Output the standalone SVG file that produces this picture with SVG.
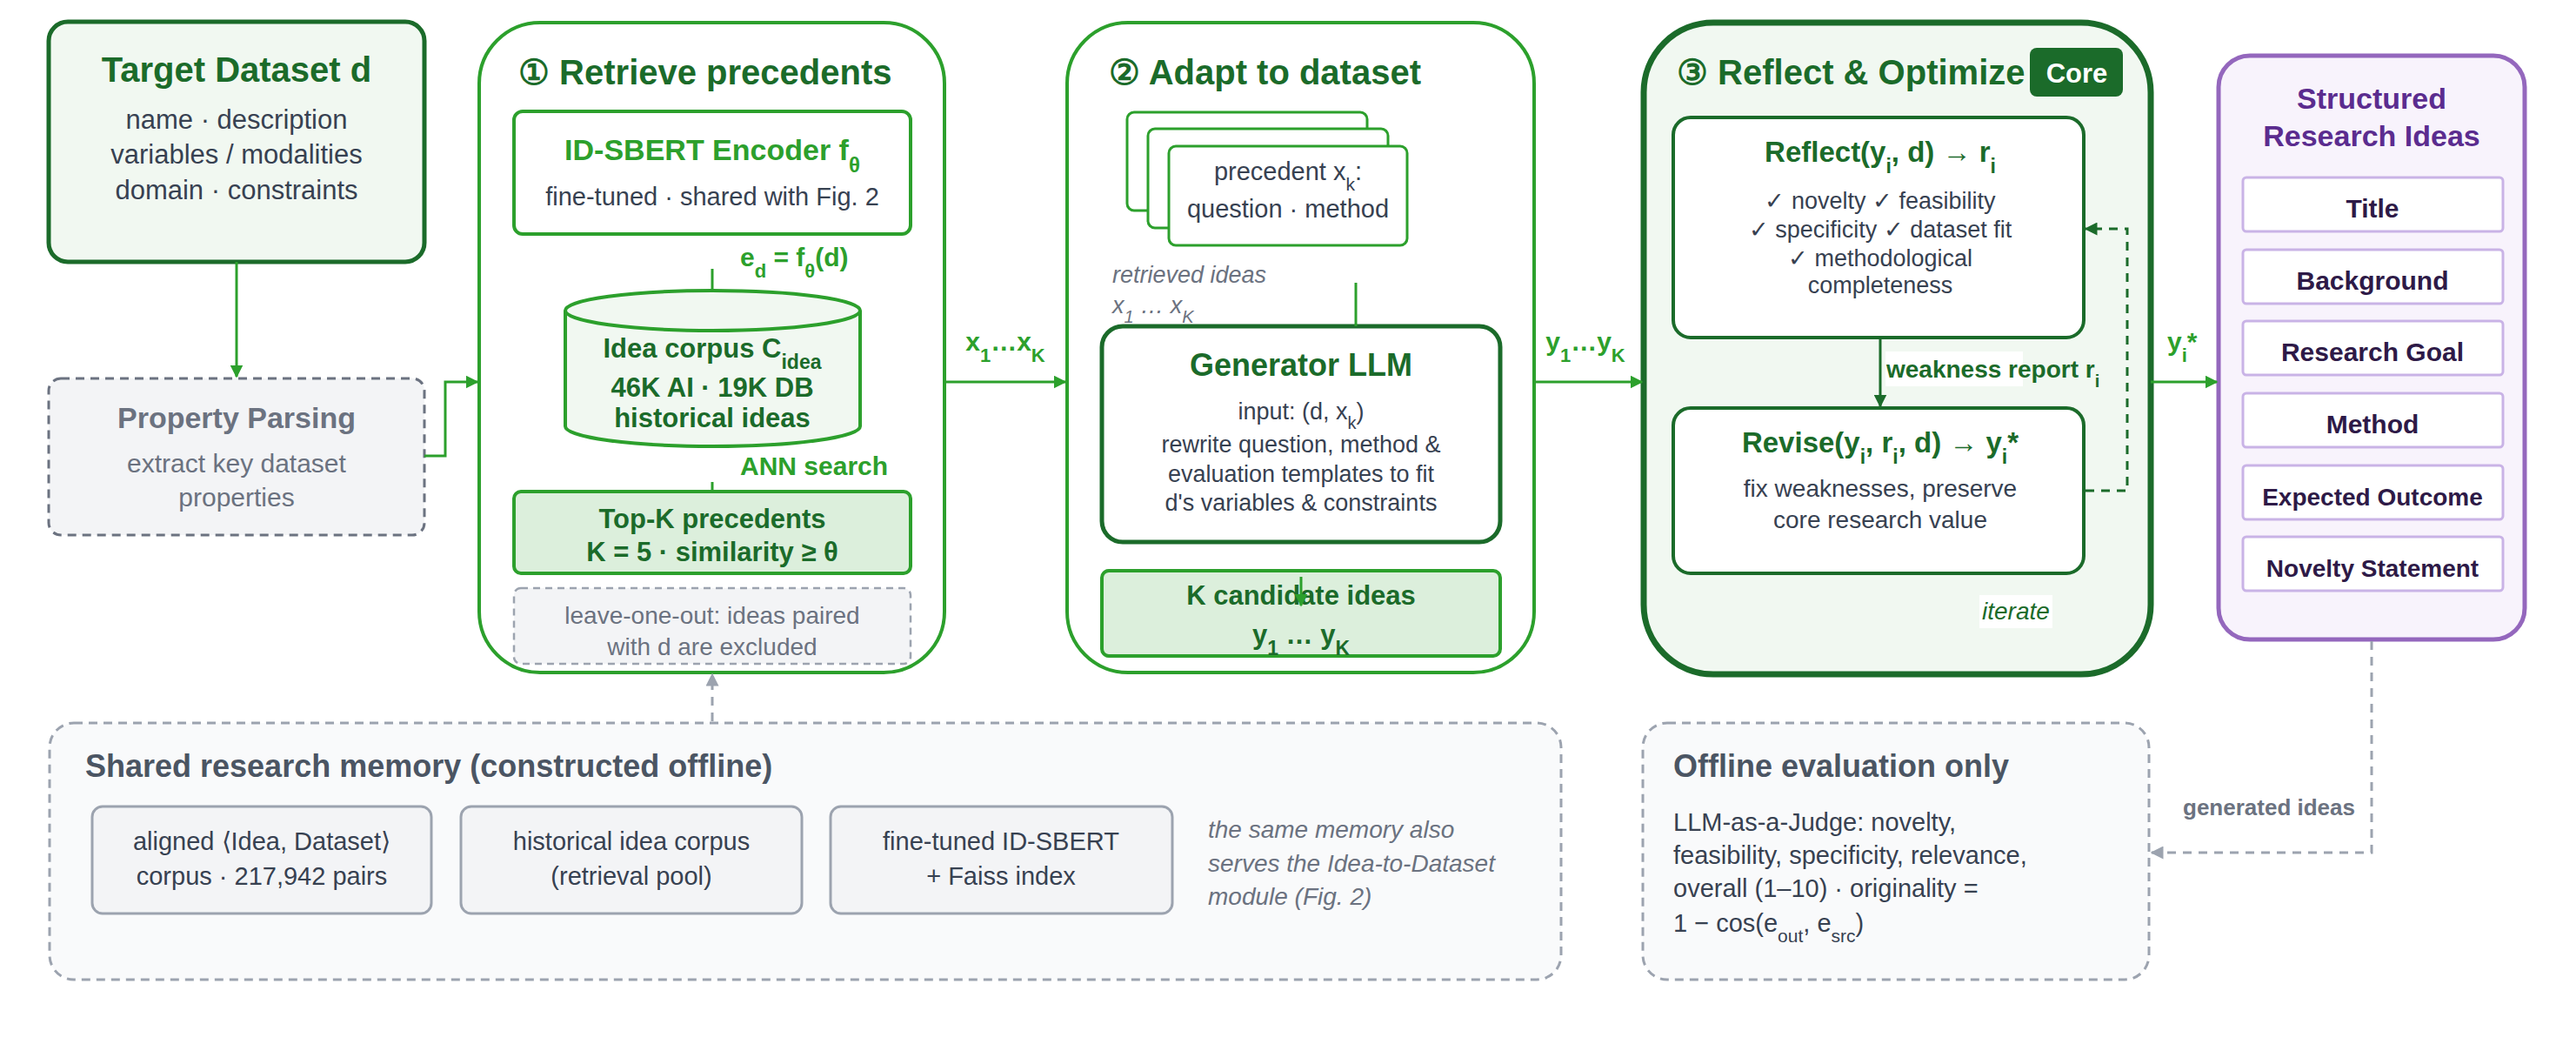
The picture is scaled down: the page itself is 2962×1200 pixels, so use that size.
<svg xmlns="http://www.w3.org/2000/svg" width="2962" height="1200" viewBox="0 0 2962 1200">
<defs>
<style>
text{font-family:"Liberation Sans",Arial,sans-serif}
.b{font-weight:bold}
.dg{fill:#1b6b2a}.g{fill:#2ca02c}.tx{fill:#374151}.gr{fill:#6b7280}.pu{fill:#5b2c8f}.dp{fill:#2e1a47}
.c{text-anchor:middle}
.it{font-style:italic}
</style>
<marker id="ag" viewBox="0 0 10 10" refX="9" refY="5" markerWidth="5" markerHeight="5" orient="auto"><path d="M0,0L10,5L0,10z" fill="#2ca02c"/></marker>
<marker id="ad" viewBox="0 0 10 10" refX="9" refY="5" markerWidth="5" markerHeight="5" orient="auto"><path d="M0,0L10,5L0,10z" fill="#1b6b2a"/></marker>
<marker id="ay" viewBox="0 0 10 10" refX="9" refY="5" markerWidth="5" markerHeight="5" orient="auto"><path d="M0,0L10,5L0,10z" fill="#9ca3af"/></marker>
</defs>
<rect width="2962" height="1200" fill="#fff"/>

<g id="target">
<rect x="56" y="25" width="432" height="276" rx="22" fill="#f1f8f1" stroke="#1b6b2a" stroke-width="5"/>
<text x="272" y="94" class="b dg c" font-size="40">Target Dataset d</text>
<text x="272" y="148" class="tx c" font-size="31">name · description</text>
<text x="272" y="188" class="tx c" font-size="31">variables / modalities</text>
<text x="272" y="229" class="tx c" font-size="31">domain · constraints</text>
</g>

<g id="parsing">
<rect x="56" y="435" width="432" height="180" rx="14" fill="#f3f4f6" stroke="#6b7280" stroke-width="3" stroke-dasharray="10 7"/>
<text x="272" y="492" class="b gr c" font-size="34">Property Parsing</text>
<text x="272" y="543" class="gr c" font-size="30">extract key dataset</text>
<text x="272" y="582" class="gr c" font-size="30">properties</text>
</g>

<g id="retrieve">
<rect x="551" y="26" width="535" height="747" rx="70" fill="#fff" stroke="#2ca02c" stroke-width="4"/>
<text x="596" y="97" class="b dg" font-size="40">① Retrieve precedents</text>
<rect x="591" y="128" width="456" height="141" rx="10" fill="#fff" stroke="#2ca02c" stroke-width="4"/>
<text x="819" y="184" class="b g c" font-size="34">ID-SBERT Encoder f<tspan baseline-shift="sub" font-size="24">θ</tspan></text>
<text x="819" y="236" class="tx c" font-size="29">fine-tuned · shared with Fig. 2</text>
<text x="851" y="306" class="b g" font-size="30">e<tspan baseline-shift="sub" font-size="22">d</tspan> = f<tspan baseline-shift="sub" font-size="22">θ</tspan>(d)</text>
<path d="M650,357 V490 A169,23 0 0 0 989,490 V357" fill="#f1f8f1" stroke="#2ca02c" stroke-width="4"/>
<ellipse cx="819.5" cy="357" rx="169.5" ry="23" fill="#f1f8f1" stroke="#2ca02c" stroke-width="4"/>
<text x="819" y="411" class="b dg c" font-size="31">Idea corpus C<tspan baseline-shift="sub" font-size="23">idea</tspan></text>
<text x="819" y="456" class="b dg c" font-size="31">46K AI · 19K DB</text>
<text x="819" y="491" class="b dg c" font-size="31">historical ideas</text>
<text x="851" y="546" class="b g" font-size="30">ANN search</text>
<rect x="591" y="565" width="456" height="94" rx="8" fill="#dcefdc" stroke="#2ca02c" stroke-width="4"/>
<text x="819" y="607" class="b dg c" font-size="31">Top-K precedents</text>
<text x="819" y="645" class="b dg c" font-size="31">K = 5 · similarity ≥ θ</text>
<rect x="591" y="676" width="456" height="87" rx="8" fill="#f3f4f6" stroke="#9ca3af" stroke-width="2.5" stroke-dasharray="8 6"/>
<text x="819" y="717" class="gr c" font-size="28">leave-one-out: ideas paired</text>
<text x="819" y="753" class="gr c" font-size="28">with d are excluded</text>
</g>

<g id="adapt">
<rect x="1227" y="26" width="537" height="747" rx="70" fill="#fff" stroke="#2ca02c" stroke-width="4"/>
<text x="1275" y="97" class="b dg" font-size="40">② Adapt to dataset</text>
<rect x="1296" y="129" width="276" height="113" rx="8" fill="#fff" stroke="#2ca02c" stroke-width="3"/>
<rect x="1320" y="148" width="276" height="114" rx="8" fill="#fff" stroke="#2ca02c" stroke-width="3"/>
<rect x="1344" y="168" width="274" height="114" rx="8" fill="#fff" stroke="#2ca02c" stroke-width="3"/>
<text x="1481" y="207" class="tx c" font-size="29">precedent x<tspan baseline-shift="sub" font-size="21">k</tspan>:</text>
<text x="1481" y="250" class="tx c" font-size="29">question · method</text>
<text x="1279" y="325" class="gr it" font-size="27">retrieved ideas</text>
<text x="1279" y="360" class="gr it" font-size="27">x<tspan baseline-shift="sub" font-size="20">1</tspan> … x<tspan baseline-shift="sub" font-size="20">K</tspan></text>
<rect x="1267" y="375" width="458" height="248" rx="24" fill="#fff" stroke="#1b6b2a" stroke-width="5"/>
<text x="1496" y="432" class="b dg c" font-size="36">Generator LLM</text>
<text x="1496" y="482" class="tx c" font-size="27">input: (d, x<tspan baseline-shift="sub" font-size="20">k</tspan>)</text>
<text x="1496" y="520" class="tx c" font-size="27">rewrite question, method &amp;</text>
<text x="1496" y="554" class="tx c" font-size="27">evaluation templates to fit</text>
<text x="1496" y="587" class="tx c" font-size="27">d's variables &amp; constraints</text>
<rect x="1267" y="656" width="458" height="98" rx="8" fill="#dcefdc" stroke="#2ca02c" stroke-width="4"/>
<text x="1496" y="695" class="b dg c" font-size="31">K candidate ideas</text>
<text x="1496" y="740" class="b dg c" font-size="31">y<tspan baseline-shift="sub" font-size="23">1</tspan> … y<tspan baseline-shift="sub" font-size="23">K</tspan></text>
</g>

<g id="reflect">
<rect x="1890" y="26" width="583" height="749" rx="80" fill="#f1f8f1" stroke="#1b6b2a" stroke-width="7"/>
<text x="1928" y="97" class="b dg" font-size="40">③ Reflect &amp; Optimize</text>
<rect x="2334" y="55" width="107" height="56" rx="8" fill="#1b6b2a"/>
<text x="2388" y="95" class="b c" fill="#fff" font-size="31">Core</text>
<rect x="1924" y="135" width="472" height="253" rx="20" fill="#fff" stroke="#1b6b2a" stroke-width="4"/>
<text x="2162" y="186" class="b dg c" font-size="33">Reflect(y<tspan baseline-shift="sub" font-size="23">i</tspan>, d) → r<tspan baseline-shift="sub" font-size="23">i</tspan></text>
<text x="2162" y="240" class="tx c" font-size="27">✓ novelty ✓ feasibility</text>
<text x="2162" y="273" class="tx c" font-size="27">✓ specificity ✓ dataset fit</text>
<text x="2162" y="306" class="tx c" font-size="27">✓ methodological</text>
<text x="2162" y="337" class="tx c" font-size="27">completeness</text>
<rect x="1924" y="469" width="472" height="190" rx="20" fill="#fff" stroke="#1b6b2a" stroke-width="4"/>
<text x="2162" y="520" class="b dg c" font-size="33">Revise(y<tspan baseline-shift="sub" font-size="23">i</tspan>, r<tspan baseline-shift="sub" font-size="23">i</tspan>, d) → y<tspan baseline-shift="sub" font-size="23">i</tspan>*</text>
<text x="2162" y="571" class="tx c" font-size="28">fix weaknesses, preserve</text>
<text x="2162" y="607" class="tx c" font-size="28">core research value</text>
</g>

<g id="ideas">
<rect x="2551" y="64" width="352" height="671" rx="36" fill="#f8f3fc" stroke="#9467bd" stroke-width="5"/>
<text x="2727" y="125" class="b pu c" font-size="34">Structured</text>
<text x="2727" y="168" class="b pu c" font-size="34">Research Ideas</text>
<g stroke="#c9b3e6" stroke-width="3" fill="#fff">
<rect x="2579" y="204" width="299" height="62" rx="4"/>
<rect x="2579" y="287" width="299" height="62" rx="4"/>
<rect x="2579" y="369" width="299" height="62" rx="4"/>
<rect x="2579" y="452" width="299" height="62" rx="4"/>
<rect x="2579" y="535" width="299" height="62" rx="4"/>
<rect x="2579" y="617" width="299" height="62" rx="4"/>
</g>
<text x="2728" y="250" class="b dp c" font-size="30">Title</text>
<text x="2728" y="333" class="b dp c" font-size="30">Background</text>
<text x="2728" y="415" class="b dp c" font-size="30">Research Goal</text>
<text x="2728" y="498" class="b dp c" font-size="30">Method</text>
<text x="2728" y="581" class="b dp c" font-size="28">Expected Outcome</text>
<text x="2728" y="663" class="b dp c" font-size="28">Novelty Statement</text>
</g>

<g id="memory">
<rect x="57" y="831" width="1738" height="295" rx="28" fill="#f9fafb" stroke="#9ca3af" stroke-width="3" stroke-dasharray="10 7"/>
<text x="98" y="893" class="b" fill="#4b5563" font-size="36">Shared research memory (constructed offline)</text>
<g fill="#f3f4f6" stroke="#9ca3af" stroke-width="3">
<rect x="106" y="927" width="390" height="123" rx="12"/>
<rect x="530" y="927" width="392" height="123" rx="12"/>
<rect x="955" y="927" width="393" height="123" rx="12"/>
</g>
<text x="301" y="977" class="tx c" font-size="29">aligned ⟨Idea, Dataset⟩</text>
<text x="301" y="1017" class="tx c" font-size="29">corpus · 217,942 pairs</text>
<text x="726" y="977" class="tx c" font-size="29">historical idea corpus</text>
<text x="726" y="1017" class="tx c" font-size="29">(retrieval pool)</text>
<text x="1151" y="977" class="tx c" font-size="29">fine-tuned ID-SBERT</text>
<text x="1151" y="1017" class="tx c" font-size="29">+ Faiss index</text>
<text x="1389" y="963" class="gr it" font-size="28">the same memory also</text>
<text x="1389" y="1002" class="gr it" font-size="28">serves the Idea-to-Dataset</text>
<text x="1389" y="1040" class="gr it" font-size="28">module (Fig. 2)</text>
</g>

<g id="offline">
<rect x="1889" y="831" width="582" height="295" rx="28" fill="#f9fafb" stroke="#9ca3af" stroke-width="3" stroke-dasharray="10 7"/>
<text x="1924" y="893" class="b" fill="#4b5563" font-size="36">Offline evaluation only</text>
<text x="1924" y="955" class="tx" font-size="29">LLM-as-a-Judge: novelty,</text>
<text x="1924" y="993" class="tx" font-size="29">feasibility, specificity, relevance,</text>
<text x="1924" y="1031" class="tx" font-size="29">overall (1–10) · originality =</text>
<text x="1924" y="1071" class="tx" font-size="29">1 − cos(e<tspan baseline-shift="sub" font-size="21">out</tspan>, e<tspan baseline-shift="sub" font-size="21">src</tspan>)</text>
</g>

<g id="connectors" fill="none">
<path d="M272,301 V433" stroke="#2ca02c" stroke-width="3" marker-end="url(#ag)"/>
<path d="M488,524 H512 V439 H549" stroke="#2ca02c" stroke-width="3" marker-end="url(#ag)"/>
<path d="M819,309 V332" stroke="#2ca02c" stroke-width="3"/>
<path d="M819,554 V564" stroke="#2ca02c" stroke-width="3"/>
<path d="M1086,439 H1225" stroke="#2ca02c" stroke-width="3" marker-end="url(#ag)"/>
<path d="M1559,325 V375" stroke="#2ca02c" stroke-width="3"/>
<path d="M1496,663 V696" stroke="#2ca02c" stroke-width="3" marker-end="url(#ag)"/>
<path d="M1764,439 H1888" stroke="#2ca02c" stroke-width="3" marker-end="url(#ag)"/>
<path d="M2162,390 V467" stroke="#1b6b2a" stroke-width="3" marker-end="url(#ad)"/>
<path d="M2398,564 H2446 V263 H2398" stroke="#1b6b2a" stroke-width="3" stroke-dasharray="10 8" marker-end="url(#ad)"/>
<path d="M2473,439 H2549" stroke="#2ca02c" stroke-width="3" marker-end="url(#ag)"/>
<path d="M819,829 V775" stroke="#9ca3af" stroke-width="3" stroke-dasharray="10 8" marker-end="url(#ay)"/>
<path d="M2727,737 V980 H2474" stroke="#9ca3af" stroke-width="3" stroke-dasharray="10 8" marker-end="url(#ay)"/>
<rect x="2168" y="404" width="158" height="40" fill="#fff"/>
<text x="2169" y="434" class="b dg" font-size="28">weakness report r<tspan baseline-shift="sub" font-size="20">i</tspan></text>
<rect x="2276" y="684" width="84" height="38" fill="#fff"/>
<text x="2279" y="712" class="dg it" font-size="28">iterate</text>
<text x="1156" y="403" class="b g c" font-size="30">x<tspan baseline-shift="sub" font-size="22">1</tspan>…x<tspan baseline-shift="sub" font-size="22">K</tspan></text>
<text x="1823" y="403" class="b g c" font-size="30">y<tspan baseline-shift="sub" font-size="22">1</tspan>…y<tspan baseline-shift="sub" font-size="22">K</tspan></text>
<text x="2492" y="403" class="b g" font-size="30">y<tspan baseline-shift="sub" font-size="22">i</tspan>*</text>
<text x="2708" y="937" class="b gr" text-anchor="end" font-size="26">generated ideas</text>
</g>
</svg>
